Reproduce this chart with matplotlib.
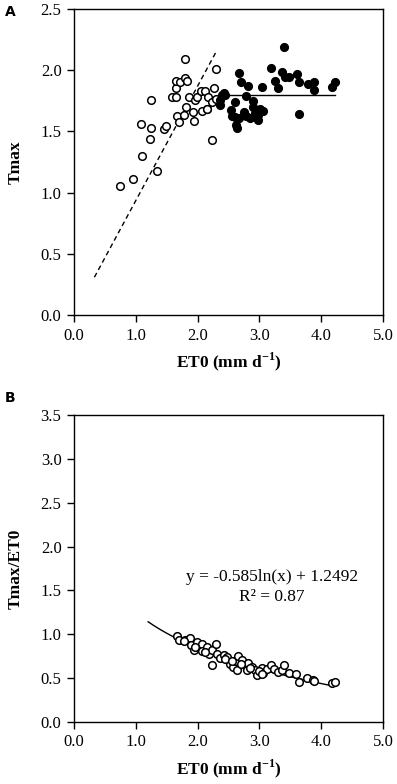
import numpy as np
import matplotlib
matplotlib.use("Agg")
import matplotlib.pyplot as plt

# Panel A: open circles (low ET0)
a_open_x = [0.74, 0.955, 1.106, 1.079, 1.246, 1.23, 1.25, 1.343, 1.462, 1.494, 1.58, 1.65, 1.65, 1.65,
            1.715, 1.80, 1.80, 1.823, 1.66, 1.70, 1.775, 1.812, 1.866, 1.926, 1.937, 1.958, 1.99, 2.06,
            2.07, 2.125, 2.152, 2.173, 2.228, 2.26, 2.233, 2.29, 2.29, 2.147]
a_open_y = [1.054, 1.108, 1.30, 1.56, 1.528, 1.435, 1.756, 1.174, 1.52, 1.544, 1.778, 1.784, 1.857, 1.912,
            1.906, 2.094, 1.934, 1.915, 1.628, 1.577, 1.634, 1.697, 1.784, 1.656, 1.588, 1.756, 1.778, 1.833,
            1.669, 1.833, 1.68, 1.784, 1.743, 1.852, 1.43, 2.012, 1.767, 1.68]

# Panel A: filled circles (high ET0)
a_fill_x = [3.40, 3.19, 3.36, 2.67, 2.71, 2.82, 3.05, 3.25, 3.30, 3.414, 3.48, 3.61, 3.646, 3.78, 3.88,
            3.88, 4.18, 4.22, 2.42, 2.44, 2.36, 2.36, 2.79, 2.61, 2.89, 2.535, 2.55, 2.60, 2.675, 2.62,
            2.64, 2.75, 2.79, 2.84, 2.90, 2.93, 2.97, 3.01, 3.06, 2.98, 3.636, 2.40]
a_fill_y = [2.19, 2.018, 1.988, 1.975, 1.90, 1.874, 1.866, 1.915, 1.857, 1.942, 1.942, 1.966, 1.90, 1.885,
            1.906, 1.838, 1.86, 1.906, 1.81, 1.797, 1.756, 1.715, 1.79, 1.743, 1.75, 1.675, 1.626, 1.62,
            1.607, 1.552, 1.525, 1.661, 1.626, 1.607, 1.697, 1.648, 1.593, 1.68, 1.669, 1.634, 1.64, 1.80]

# Panel A fitted lines
dash_slope = 0.935
dash_x_range = [0.33, 2.29]
flat_level = 1.795
flat_x_range = [2.36, 4.22]

# Panel B: Tmax/ET0
b_x = [1.672, 1.70, 1.80, 1.88, 1.90, 1.935, 1.99, 2.07, 2.07, 2.15, 2.18, 2.23, 2.237, 2.30, 2.31,
       2.366, 2.42, 2.47, 2.53, 2.57, 2.61, 2.66, 2.645, 2.715, 2.77, 2.80, 2.82, 2.876, 2.93, 2.957,
       3.04, 3.065, 3.118, 3.18, 3.237, 3.296, 3.36, 3.40, 3.484, 3.60, 3.634, 3.763, 3.87, 4.167, 4.22,
       1.78, 1.95, 2.12, 2.45, 2.55, 2.70, 2.85, 3.00, 3.05, 3.88]
b_y = [0.985, 0.932, 0.94, 0.958, 0.875, 0.818, 0.913, 0.894, 0.81, 0.856, 0.78, 0.825, 0.647, 0.886, 0.78,
       0.73, 0.76, 0.742, 0.666, 0.628, 0.692, 0.749, 0.59, 0.711, 0.647, 0.597, 0.673, 0.628, 0.597, 0.54,
       0.62, 0.56, 0.609, 0.647, 0.609, 0.57, 0.597, 0.654, 0.56, 0.544, 0.456, 0.506, 0.483, 0.445, 0.456,
       0.92, 0.86, 0.80, 0.72, 0.70, 0.66, 0.62, 0.58, 0.55, 0.47]

fit_a, fit_b = -0.585, 1.2492
fit_x_range = [1.2, 4.2]

plt.rcParams['font.family'] = ['Liberation Serif', 'DejaVu Serif']
plt.rcParams['mathtext.fontset'] = 'custom'
plt.rcParams['mathtext.rm'] = 'Liberation Serif'
plt.rcParams['mathtext.bf'] = 'Liberation Serif:bold'

fig = plt.figure(figsize=(3.97, 7.84), dpi=100)
axA = fig.add_axes([74/397, 1-315/784, 309/397, 306/784])
axB = fig.add_axes([74/397, 1-722/784, 309/397, 307/784])

ms = 30
lw_edge = 1.1

# Panel A
axA.scatter(a_open_x, a_open_y, s=ms, facecolors='white', edgecolors='black', linewidths=lw_edge, zorder=3)
axA.scatter(a_fill_x, a_fill_y, s=ms, facecolors='black', edgecolors='black', linewidths=lw_edge, zorder=3)
dx = np.array(dash_x_range)
axA.plot(dx, dash_slope * dx, ls=(0, (3.5, 2.5)), color='black', lw=1.0, zorder=2)
axA.plot(flat_x_range, [flat_level, flat_level], color='black', lw=1.0, zorder=2)
axA.set_xlim(0, 5)
axA.set_ylim(0, 2.5)
axA.set_xticks(np.arange(0, 5.01, 1.0))
axA.set_yticks(np.arange(0, 2.51, 0.5))
axA.set_xticklabels([f"{v:.1f}" for v in np.arange(0, 5.01, 1.0)])
axA.set_yticklabels([f"{v:.1f}" for v in np.arange(0, 2.51, 0.5)])
xlabel = r"ET0 (mm d$^{\mathbf{-1}}$)"
axA.set_ylabel("Tmax", fontsize=12.5, fontweight='bold', labelpad=12)
axA.set_xlabel(xlabel, fontsize=12.5, fontweight='bold', labelpad=5)

# Panel B
xf = np.linspace(fit_x_range[0], fit_x_range[1], 200)
axB.plot(xf, fit_a * np.log(xf) + fit_b, color='black', lw=1.0, zorder=2)
axB.scatter(b_x, b_y, s=ms, facecolors='white', edgecolors='black', linewidths=lw_edge, zorder=3)
axB.set_xlim(0, 5)
axB.set_ylim(0, 3.5)
axB.set_xticks(np.arange(0, 5.01, 1.0))
axB.set_yticks(np.arange(0, 3.51, 0.5))
axB.set_xticklabels([f"{v:.1f}" for v in np.arange(0, 5.01, 1.0)])
axB.set_yticklabels([f"{v:.1f}" for v in np.arange(0, 3.51, 0.5)])
axB.set_ylabel("Tmax/ET0", fontsize=12.5, fontweight='bold', labelpad=12)
axB.set_xlabel(xlabel, fontsize=12.5, fontweight='bold', labelpad=5)
axB.text(3.2, 1.65, "y = -0.585ln(x) + 1.2492", ha='center', va='center', fontsize=12.5)
axB.text(3.2, 1.42, "R² = 0.87", ha='center', va='center', fontsize=12.5)

for ax in (axA, axB):
    for s in ax.spines.values():
        s.set_linewidth(1.0)
        s.set_color('black')
    ax.tick_params(direction='out', length=5, width=1.0, labelsize=12, pad=4)

fig.text(5/397, 1-12/784, "A", fontsize=10, fontweight='bold', family='DejaVu Sans', va='center', ha='left')
fig.text(5/397, 1-398/784, "B", fontsize=10, fontweight='bold', family='DejaVu Sans', va='center', ha='left')

fig.savefig("out.png", dpi=100)
